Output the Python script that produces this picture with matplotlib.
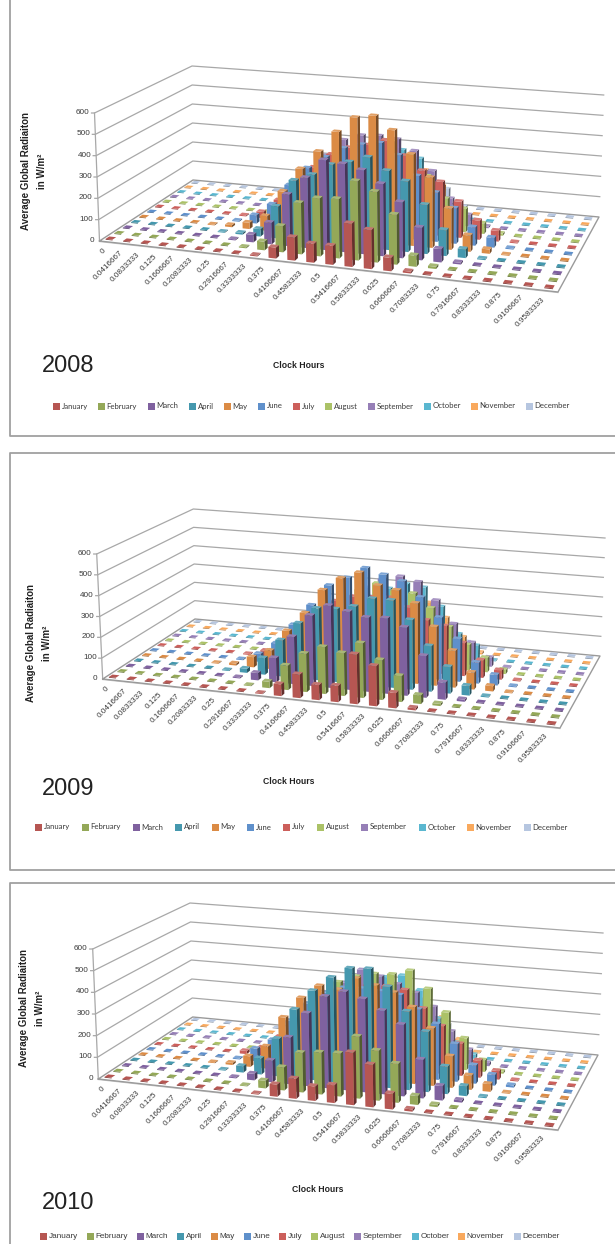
import matplotlib
matplotlib.use("Agg")
import matplotlib.pyplot as plt
import numpy as np
from matplotlib.collections import PolyCollection
from matplotlib.patches import Rectangle

# hour labels (fraction of a day) and months
hours = ["0", "0.0416667", "0.0833333", "0.125", "0.1666667", "0.2083333", "0.25", "0.2916667",
         "0.3333333", "0.375", "0.4166667", "0.4583333", "0.5", "0.5416667", "0.5833333", "0.625",
         "0.6666667", "0.7083333", "0.75", "0.7916667", "0.8333333", "0.875", "0.9166667", "0.9583333"]
months = ["January", "February", "March", "April", "May", "June", "July", "August",
          "September", "October", "November", "December"]
month_colors = ["#B65652", "#94A858", "#7F619F", "#4598AE", "#DB8B45", "#5F90CB",
                "#CC5F5B", "#ABC267", "#967FB7", "#5AB7D0", "#F9A95D", "#B6C6E0"]
y_ticks = [0, 100, 200, 300, 400, 500, 600]

# one row per month, hour 0 to 23
rad_2008 = [
    [0, 0, 0, 0, 0, 0, 0, 0, 5, 50, 105, 85, 85, 195, 175, 60, 8, 0, 0, 0, 0, 0, 0, 0],
    [0, 0, 0, 0, 0, 0, 0, 5, 40, 120, 235, 265, 270, 360, 320, 225, 50, 10, 0, 0, 0, 0, 0, 0],
    [0, 0, 0, 0, 0, 0, 5, 35, 100, 240, 325, 415, 405, 385, 330, 255, 148, 60, 8, 0, 0, 0, 0, 0],
    [0, 0, 0, 0, 0, 4, 8, 35, 150, 280, 315, 370, 390, 420, 365, 325, 225, 118, 40, 5, 0, 0, 0, 0],
    [0, 0, 0, 0, 3, 10, 30, 70, 195, 310, 400, 500, 575, 590, 530, 425, 325, 190, 75, 20, 3, 0, 0, 0],
    [0, 0, 0, 0, 0, 5, 40, 100, 200, 290, 350, 400, 425, 440, 390, 300, 230, 165, 85, 45, 5, 0, 0, 0],
    [0, 0, 0, 0, 0, 5, 30, 95, 190, 270, 340, 380, 400, 430, 365, 300, 255, 170, 90, 50, 5, 0, 0, 0],
    [0, 0, 0, 0, 0, 0, 5, 60, 150, 240, 300, 350, 390, 400, 340, 250, 150, 110, 50, 10, 0, 0, 0, 0],
    [0, 0, 0, 0, 0, 0, 0, 25, 170, 280, 365, 395, 400, 390, 340, 250, 125, 55, 8, 0, 0, 0, 0, 0],
    [0, 0, 0, 0, 0, 0, 0, 0, 20, 120, 200, 270, 300, 315, 280, 160, 40, 0, 0, 0, 0, 0, 0, 0],
    [0, 0, 0, 0, 0, 0, 0, 0, 0, 40, 120, 180, 220, 230, 200, 130, 30, 0, 0, 0, 0, 0, 0, 0],
    [0, 0, 0, 0, 0, 0, 0, 0, 0, 0, 80, 140, 180, 190, 160, 90, 10, 0, 0, 0, 0, 0, 0, 0],
]
rad_2009 = [
    [0, 0, 0, 0, 0, 0, 0, 0, 3, 55, 110, 70, 75, 230, 185, 70, 10, 0, 0, 0, 0, 0, 0, 0],
    [0, 0, 0, 0, 0, 0, 0, 3, 30, 115, 180, 220, 200, 255, 185, 120, 40, 10, 0, 0, 0, 0, 0, 0],
    [0, 0, 0, 0, 0, 0, 5, 35, 115, 225, 335, 390, 370, 350, 355, 320, 195, 80, 10, 0, 0, 0, 0, 0],
    [0, 0, 0, 0, 0, 3, 20, 80, 175, 265, 345, 350, 370, 415, 415, 330, 215, 125, 45, 5, 0, 0, 0, 0],
    [0, 0, 0, 0, 3, 10, 50, 90, 195, 290, 410, 475, 510, 455, 440, 385, 280, 175, 80, 25, 3, 0, 0, 0],
    [0, 0, 0, 0, 0, 5, 40, 100, 200, 305, 410, 455, 510, 485, 460, 390, 300, 205, 100, 50, 5, 0, 0, 0],
    [0, 0, 0, 0, 0, 5, 30, 90, 170, 250, 310, 340, 345, 350, 310, 255, 235, 160, 85, 45, 5, 0, 0, 0],
    [0, 0, 0, 0, 0, 0, 5, 55, 130, 210, 290, 350, 390, 360, 355, 290, 205, 125, 70, 20, 0, 0, 0, 0],
    [0, 0, 0, 0, 0, 0, 0, 25, 90, 180, 280, 340, 390, 410, 390, 305, 195, 110, 45, 5, 0, 0, 0, 0],
    [0, 0, 0, 0, 0, 0, 0, 0, 20, 90, 180, 270, 320, 350, 340, 250, 120, 70, 5, 0, 0, 0, 0, 0],
    [0, 0, 0, 0, 0, 0, 0, 0, 0, 40, 120, 190, 240, 260, 240, 170, 80, 10, 0, 0, 0, 0, 0, 0],
    [0, 0, 0, 0, 0, 0, 0, 0, 0, 0, 90, 150, 190, 200, 170, 100, 30, 0, 0, 0, 0, 0, 0, 0],
]
rad_2010 = [
    [0, 0, 0, 0, 0, 0, 0, 0, 3, 55, 90, 65, 80, 235, 190, 70, 10, 0, 0, 0, 0, 0, 0, 0],
    [0, 0, 0, 0, 0, 0, 0, 3, 35, 105, 180, 190, 195, 280, 225, 175, 40, 10, 0, 0, 0, 0, 0, 0],
    [0, 0, 0, 0, 0, 0, 5, 30, 100, 215, 335, 420, 450, 425, 380, 325, 175, 65, 10, 0, 0, 0, 0, 0],
    [0, 0, 0, 0, 0, 3, 30, 75, 175, 320, 415, 485, 535, 540, 465, 360, 275, 125, 45, 5, 0, 0, 0, 0],
    [0, 0, 0, 0, 3, 10, 50, 105, 250, 350, 415, 405, 465, 440, 415, 355, 265, 145, 65, 35, 3, 0, 0, 0],
    [0, 0, 0, 0, 0, 5, 60, 110, 210, 300, 360, 390, 395, 390, 380, 320, 260, 175, 85, 50, 10, 0, 0, 0],
    [0, 0, 0, 0, 0, 15, 40, 100, 190, 270, 330, 370, 390, 390, 380, 300, 225, 150, 80, 40, 5, 0, 0, 0],
    [0, 0, 0, 0, 0, 0, 5, 60, 150, 260, 365, 400, 420, 425, 450, 370, 265, 150, 55, 10, 0, 0, 0, 0],
    [0, 0, 0, 0, 0, 0, 0, 25, 110, 230, 340, 410, 385, 355, 320, 260, 150, 70, 15, 0, 0, 0, 0, 0],
    [0, 0, 0, 0, 0, 0, 0, 0, 20, 100, 200, 300, 360, 375, 310, 180, 70, 20, 0, 0, 0, 0, 0, 0],
    [0, 0, 0, 0, 0, 0, 0, 0, 0, 40, 130, 200, 250, 270, 240, 160, 60, 5, 0, 0, 0, 0, 0, 0],
    [0, 0, 0, 0, 0, 0, 0, 0, 0, 0, 90, 150, 190, 200, 170, 100, 20, 0, 0, 0, 0, 0, 0, 0],
]

BAR_W = 0.41
BAR_D = 0.42
GRID = "#A8A8A8"
FLOOR = "#9A9A9A"
TEXT = "#3A3A3A"


def homography(corners):
    """Map unit square (u along hours, v along months) to the floor quad."""
    src = [(0, 0), (1, 0), (1, 1), (0, 1)]
    a, b = [], []
    for (u, v), (x, y) in zip(src, corners):
        a.append([u, v, 1, 0, 0, 0, -u * x, -v * x])
        a.append([0, 0, 0, u, v, 1, -u * y, -v * y])
        b += [x, y]
    h = np.linalg.solve(np.array(a, float), np.array(b, float))
    return np.append(h, 1).reshape(3, 3)


def darker(color, f):
    rgb = np.array(matplotlib.colors.to_rgb(color)) * f
    return tuple(np.clip(rgb, 0, 1))


def lighter(color, f):
    rgb = np.array(matplotlib.colors.to_rgb(color))
    return tuple(rgb + (1 - rgb) * f)


def slot_center(i):
    # the original's perspective is a bit flatter than the corner fit
    t = (i + 0.5) / 24
    return i + 0.5 + 0.22 * np.sin(np.pi * t) - 0.1 * (1 - t)


def draw_panel(ax, data, p):
    H = homography([p["fl"], p["fr"], p["br"], p["bl"]])

    def project(u, v, z):
        w = H @ np.array([u / 24, v / 12, 1.0])
        x, y = w[0] / w[2], w[1] / w[2]
        # height vector blended between the four corners
        uu, vv = u / 24, v / 12
        up = (np.array(p["up_fl"]) * (1 - uu) * (1 - vv) + np.array(p["up_fr"]) * uu * (1 - vv)
              + np.array(p["up_br"]) * uu * vv + np.array(p["up_bl"]) * (1 - uu) * vv)
        return (x + up[0] * z / 600, y + up[1] * z / 600)

    # walls
    for t in y_ticks[1:]:
        a, b, c = project(0, 0, t), project(0, 12, t), project(24, 12, t)
        ax.plot([a[0] - 3, a[0], b[0], c[0]], [a[1], a[1], b[1], c[1]], color=GRID, lw=0.9, zorder=1)
    a, b = project(0, 0, 0), project(0, 0, 600)
    ax.plot([a[0], b[0]], [a[1], b[1]], color=GRID, lw=0.9, zorder=1)
    for t in y_ticks:
        a = project(0, 0, t)
        ax.text(a[0] - 5, a[1] - 0.5, str(t), ha="right", va="center", fontsize=5.9, color=TEXT)

    # floor
    c = [project(0, 0, 0), project(24, 0, 0), project(24, 12, 0), project(0, 12, 0), project(0, 0, 0)]
    ax.plot([q[0] for q in c], [q[1] for q in c], color=FLOOR, lw=1.0, zorder=1.5)
    ax.plot([c[0][0], c[1][0]], [c[0][1] + 0.6, c[1][1] + 0.6], color="#C4C4C4", lw=0.8, zorder=1.4)

    # columns, back row first, left to right in a row
    polys, cols = [], []
    for r in range(11, -1, -1):
        for i in range(24):
            z = data[r][i]
            uc = slot_center(i)
            u0, u1 = uc - BAR_W / 2, uc + BAR_W / 2
            v0, v1 = r + 0.5 - BAR_D / 2, r + 0.5 + BAR_D / 2
            col = month_colors[r]
            h = max(z, 4)
            if z > 0:
                polys.append([project(u1, v0, 0), project(u1, v1, 0), project(u1, v1, h), project(u1, v0, h)])
                cols.append(darker(col, 0.55))
                polys.append([project(u0, v0, 0), project(u1, v0, 0), project(u1, v0, h), project(u0, v0, h)])
                cols.append(col)
                polys.append([project(u0, v0, h), project(u1, v0, h), project(u1, v1, h), project(u0, v1, h)])
                cols.append(lighter(col, 0.18))
            else:
                polys.append([project(u0, v0, 0), project(u1, v0, 0), project(u1, v0, h), project(u0, v0, h)])
                cols.append(darker(col, 0.72))
                polys.append([project(u0, v0, h), project(u1, v0, h), project(u1, v1, h), project(u0, v1, h)])
                cols.append(col)
    ax.add_collection(PolyCollection(polys, facecolors=cols, edgecolors="none", zorder=2))

    # hour labels, rotated and anchored under their category
    for i, lab in enumerate(hours):
        q = project(i + 0.5, 0, 0)
        ax.text(q[0] - 5.5, q[1] + 5, lab, rotation=45, rotation_mode="anchor", ha="right", va="top",
                fontsize=5.9, color=TEXT)

    # titles
    ax.text(p["ylab_x"], p["ylab_y"], "Average Global Radiaiton", rotation=90, ha="center", va="center",
            fontsize=7, fontweight="bold", color="#222222")
    ax.text(p["ylab_x"] + 16, p["ylab_y"], "in W/m²", rotation=90, ha="center", va="center",
            fontsize=7, fontweight="bold", color="#222222")
    ax.text(p["xlab"][0], p["xlab"][1], "Clock Hours", ha="center", va="center",
            fontsize=6.2, fontweight="bold", color="#222222")
    ax.text(68, p["year_y"], p["year"], ha="center", va="center", fontsize=17, color="#222222")

    # legend
    for name, col, x in zip(months, month_colors, p["legend_x"]):
        ax.add_patch(Rectangle((x, p["legend_y"] - 3.5), 7, 7, facecolor=col, edgecolor="none"))
        ax.text(x + 8.5, p["legend_y"], name, ha="left", va="center", fontsize=p["legend_fs"],
                color=TEXT, family=p["legend_font"])

    # panel frame
    x0, y0, y1 = 9.5, p["frame"][0], p["frame"][1]
    ax.plot([620, x0, x0, 620], [y0, y0, y1, y1], color="#A0A0A0", lw=1.3, zorder=0.5)


panels = [
    dict(data=rad_2008, year="2008", fl=(99.5, 241), fr=(558, 292), br=(599, 217), bl=(193, 180),
         up_fl=(-5, -128), up_fr=(0, -138), up_br=(4.7, -122), up_bl=(-1, -114),
         ylab_x=26, ylab_y=171, xlab=(299, 365), year_y=366, legend_y=406,
         legend_x=[53, 98, 148, 189, 224, 258, 293, 325, 368, 424, 471, 526],
         legend_fs=5.6, legend_font=["Lato"], frame=(-5, 436)),
    dict(data=rad_2009, year="2009", fl=(102.7, 679), fr=(560, 728), br=(600, 656), bl=(195, 619),
         up_fl=(-6, -125), up_fr=(0, -134), up_br=(5, -118), up_bl=(-1.7, -110),
         ylab_x=31, ylab_y=643, xlab=(289, 781), year_y=789, legend_y=827,
         legend_x=[35, 82, 133, 175, 212, 247, 283, 317, 361, 419, 467, 524],
         legend_fs=5.6, legend_font=["Lato"], frame=(453, 870)),
    dict(data=rad_2010, year="2010", fl=(98.3, 1079), fr=(558, 1130), br=(598, 1055), bl=(192.7, 1017),
         up_fl=(-5.6, -130), up_fr=(0, -138), up_br=(5, -122), up_bl=(-2.7, -114),
         ylab_x=24, ylab_y=1008, xlab=(318, 1189), year_y=1203, legend_y=1236,
         legend_x=[40, 87, 137, 177, 211, 244, 279, 311, 354, 412, 458, 514],
         legend_fs=5.9, legend_font=["Liberation Sans"], frame=(883, 1260)),
]

plt.rcParams["font.family"] = ["Liberation Sans", "DejaVu Sans"]

fig = plt.figure(figsize=(6.15, 12.44), dpi=100)
ax = fig.add_axes([0, 0, 1, 1])
ax.set_xlim(0, 615)
ax.set_ylim(1244, 0)
ax.axis("off")

for p in panels:
    draw_panel(ax, p["data"], p)

fig.savefig("out.png", dpi=100)
